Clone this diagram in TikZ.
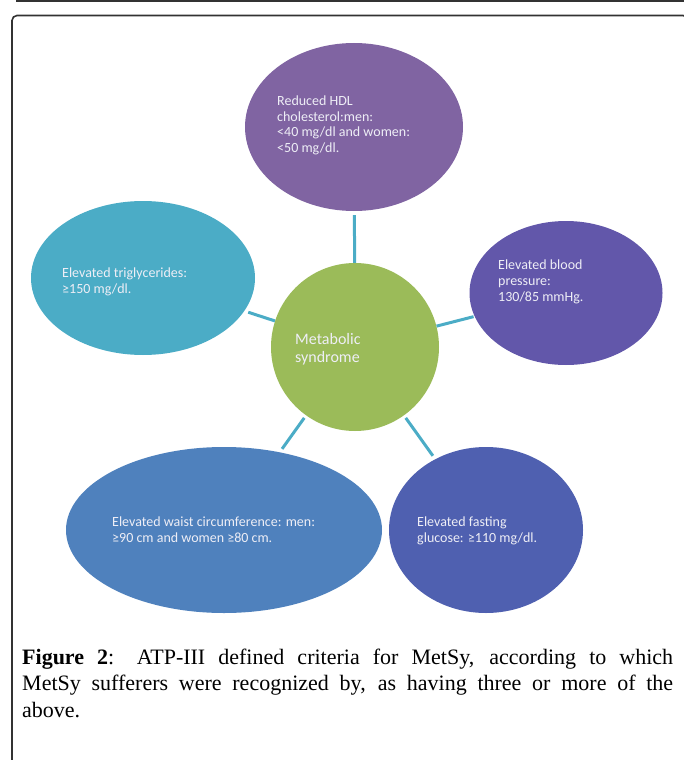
\documentclass[tikz,border=0pt]{standalone}
\usepackage{fontspec}
\setmainfont{Liberation Serif}
\newfontfamily\shapefont{Carlito}
\usetikzlibrary{shapes.geometric}
\definecolor{cTop}{RGB}{128,100,162}
\definecolor{cLeft}{RGB}{75,172,198}
\definecolor{cRight}{RGB}{98,87,170}
\definecolor{cMid}{RGB}{155,187,89}
\definecolor{cBL}{RGB}{79,129,189}
\definecolor{cBR}{RGB}{79,96,176}
\definecolor{cConn}{RGB}{75,172,198}
\definecolor{cFrame}{RGB}{50,50,50}
\definecolor{cTxt}{RGB}{238,238,246}
\begin{document}
\begin{tikzpicture}[x=1pt,y=-1pt,
  blob/.style={ellipse, draw=none, inner sep=0pt},
  lbl/.style={anchor=base west, inner sep=0pt, align=left, text=cTxt,
    font=\shapefont\fontsize{14}{15.5}\selectfont},
  conn/.style={draw=cConn, line width=3pt},
  frameline/.style={draw=cFrame, line width=1.6pt}]
\useasboundingbox (0,0) rectangle (683,760);
% frame
\draw[frameline] (16,0.8) -- (690,0.8);
\draw[frameline, rounded corners=5pt] (12,775) -- (12,15.5) -- (688,15.5) -- (688,775);
% shapes
\node[blob, fill=cTop, minimum width=218pt, minimum height=168pt] (hdl) at (354,127) {};
\node[blob, fill=cLeft, minimum width=224pt, minimum height=154pt] (tg) at (143,278) {};
\node[blob, fill=cRight, minimum width=193pt, minimum height=144pt] (bp) at (566,293) {};
\node[blob, fill=cBL, minimum width=316pt, minimum height=166pt] (waist) at (224,530) {};
\node[blob, fill=cBR, minimum width=194pt, minimum height=166pt] (glu) at (486,530) {};
\node[circle, fill=cMid, draw=none, inner sep=0pt, minimum size=168pt] (ms) at (355,347) {};
% connectors
\draw[conn, shorten >=4pt] (ms) -- (hdl);
\draw[conn, shorten >=4pt] (ms) -- (tg);
\draw[conn, shorten >=1pt] (ms) -- (bp);
\draw[conn, shorten <=3pt, shorten >=4pt] (ms) -- (waist);
\draw[conn, shorten <=3pt, shorten >=4pt] (ms) -- (glu);
% texts (anchored at the baseline of their last line)
\node[lbl] (thdl) at (277,152) {Reduced HDL\\cholesterol:men:\\<40 mg/dl and women:\\<50 mg/dl.};
\node[lbl] (ttg) at (62,293) {Elevated triglycerides:\\≥150 mg/dl.};
\node[lbl, font=\shapefont\fontsize{14}{16}\selectfont] (tbp) at (498,301) {Elevated blood\\pressure:\\130/85 mmHg.};
\node[lbl, font=\shapefont\fontsize{16}{17.5}\selectfont] (tms) at (295,362) {Metabolic\\syndrome};
\node[lbl] (twaist) at (112,542) {Elevated waist circumference: men:\\≥90 cm and women ≥80 cm.};
\node[lbl] (tglu) at (417,542) {Elevated fasting\\glucose: ≥110 mg/dl.};
% caption
\node[anchor=base west, inner sep=0pt, text width=651pt, align=justify,
  font=\fontsize{22}{26.5}\selectfont] (cap) at (22,664)
  {\textbf{Figure 2}: ATP-III defined criteria for MetSy, according to which\linebreak
   MetSy sufferers were recognized by, as having three or more of the\linebreak above.};
\end{tikzpicture}
\end{document}
